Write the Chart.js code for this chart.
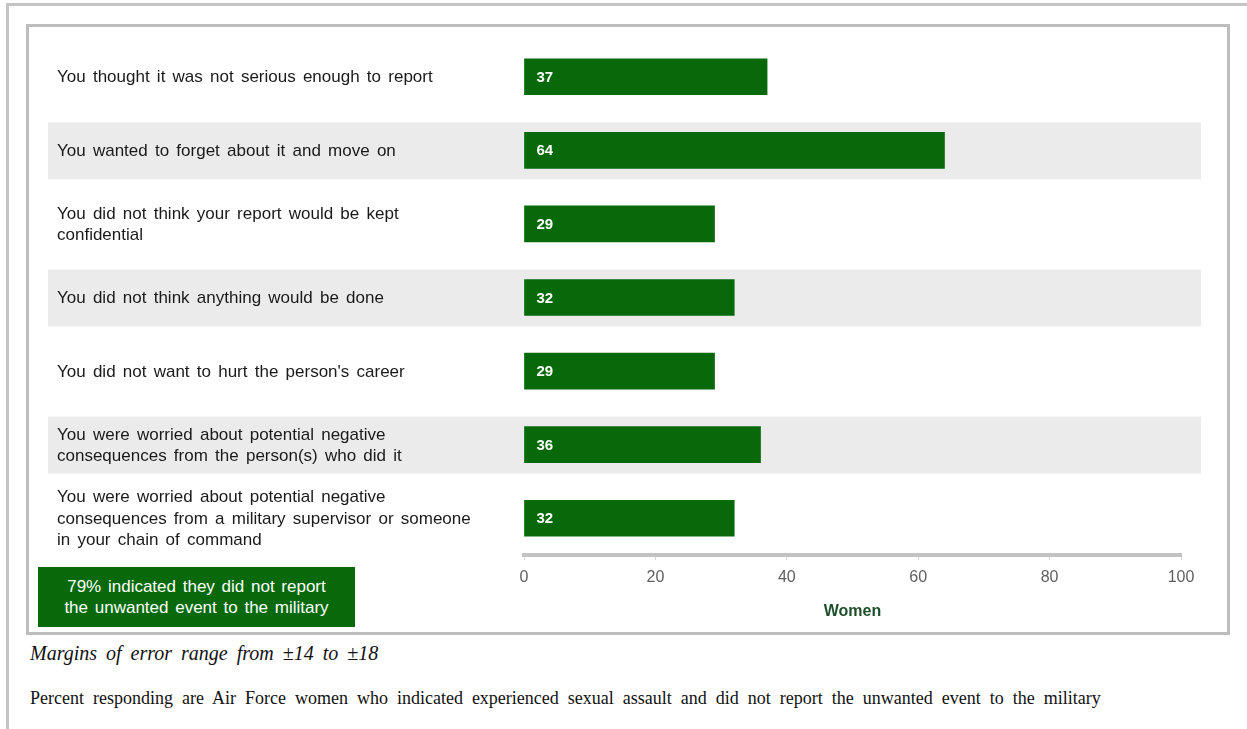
<!DOCTYPE html>
<html lang="en">
<head>
    <meta charset="UTF-8">
    <title>Reasons for not reporting</title>
    <script src="https://cdn.jsdelivr.net/npm/chart.js"></script>
    <style>
        body { margin: 0; background: #fff; font-family: "Liberation Sans", Arial, sans-serif; }
        #page { position: relative; width: 1247px; height: 729px; overflow: hidden; }
        #frameTop { position: absolute; left: 7px; top: 3px; width: 1240px; height: 3px; background: #c4c4c4; }
        #frameLeft { position: absolute; left: 6px; top: 3px; width: 3px; height: 726px; background: #c4c4c4; }
        #box { position: absolute; left: 26px; top: 24px; width: 1198px; height: 605px; border: 3px solid #bdbdbd; background: #fff; }
        #box canvas { position: absolute; left: 0; top: 0; }
        #note { position: absolute; left: 38px; top: 567px; width: 317px; height: 60px; background: #07690a; color: #fff;
                font-size: 17px; line-height: 21px; word-spacing: 2px; text-align: center; display: flex; align-items: center; justify-content: center; }
        #moe { position: absolute; left: 30px; top: 642px; font-family: "Liberation Serif", "Times New Roman", serif; font-style: italic; font-size: 20px; word-spacing: 4px; color: #111; white-space: nowrap; }
        #src { position: absolute; left: 30px; top: 688px; font-family: "Liberation Serif", "Times New Roman", serif; font-size: 18px; color: #111; word-spacing: 4.5px; white-space: nowrap; }
    </style>
</head>
<body>
<div id="page">
    <div id="frameTop"></div>
    <div id="frameLeft"></div>
    <div id="box"><canvas id="reasonChart" width="1198" height="605"></canvas></div>
    <div id="note">79% indicated they did not report<br>the unwanted event to the military</div>
    <div id="moe">Margins of error range from ±14 to ±18</div>
    <div id="src">Percent responding are Air Force women who indicated experienced sexual assault and did not report the unwanted event to the military</div>
</div>

<script>
    // categories (one entry per line of the label)
    const reasons = [
        ["You thought it was not serious enough to report"],
        ["You wanted to forget about it and move on"],
        ["You did not think your report would be kept", "confidential"],
        ["You did not think anything would be done"],
        ["You did not want to hurt the person's career"],
        ["You were worried about potential negative", "consequences from the person(s) who did it"],
        ["You were worried about potential negative", "consequences from a military supervisor or someone", "in your chain of command"]
    ];
    const women = [37, 64, 29, 32, 29, 36, 32];
    const xTicks = [0, 20, 40, 60, 80, 100];

    const green = "#07690a";

    // grey bands behind every second row + left-side labels
    const rowDecor = {
        id: "rowDecor",
        beforeDatasetsDraw(chart) {
            const ctx = chart.ctx;
            const y = chart.scales.y;
            ctx.save();
            ctx.fillStyle = "#ebebeb";
            reasons.forEach((r, i) => {
                if (i % 2 === 1) {
                    const cy = y.getPixelForValue(i);
                    ctx.fillRect(19, cy - 28, 1153, 57);
                }
            });
            ctx.fillStyle = "#1a1a1a";
            ctx.font = "17px 'Liberation Sans', Arial, sans-serif";
            ctx.wordSpacing = "2.5px";
            ctx.textBaseline = "middle";
            ctx.textAlign = "left";
            reasons.forEach((lines, i) => {
                const cy = y.getPixelForValue(i);
                const lh = 21.5;
                const start = cy - (lines.length - 1) * lh / 2;
                lines.forEach((t, k) => ctx.fillText(t, 28, start + k * lh + 1));
            });
            ctx.restore();
        },
        afterDatasetsDraw(chart) {
            const ctx = chart.ctx;
            const meta = chart.getDatasetMeta(0);
            ctx.save();
            ctx.fillStyle = "#fff";
            ctx.font = "bold 15px 'Liberation Sans', Arial, sans-serif";
            ctx.textBaseline = "middle";
            meta.data.forEach((bar, i) => {
                ctx.fillText(String(women[i]), bar.base + 12, bar.y + 1);
            });
            ctx.restore();
        }
    };

    new Chart(document.getElementById("reasonChart"), {
        type: "bar",
        data: {
            labels: reasons,
            datasets: [{
                label: "Women",
                data: women,
                backgroundColor: green,
                barThickness: 36
            }]
        },
        options: {
            indexAxis: "y",
            responsive: false,
            animation: false,
            layout: { padding: { left: 495, right: 46, top: 13, bottom: 0 } },
            plugins: { legend: { display: false }, tooltip: { enabled: false } },
            scales: {
                y: { display: false },
                x: {
                    min: 0, max: 100,
                    afterBuildTicks: s => { s.ticks = xTicks.map(v => ({ value: v })); },
                    afterFit: s => { s.height = 77; },
                    border: { display: true, color: "#c2c2c2", width: 4 },
                    grid: { drawOnChartArea: false, drawTicks: true, tickLength: 5, color: "#d6d6d6" },
                    ticks: { color: "#5f5f5f", padding: 8, font: { size: 16, family: "'Liberation Sans', Arial, sans-serif" } },
                    title: { display: true, text: "Women", color: "#1f4f2a", padding: { top: 8, bottom: 11 },
                             font: { size: 16, weight: "bold", family: "'Liberation Sans', Arial, sans-serif" } }
                }
            }
        },
        plugins: [rowDecor]
    });
</script>
</body>
</html>
